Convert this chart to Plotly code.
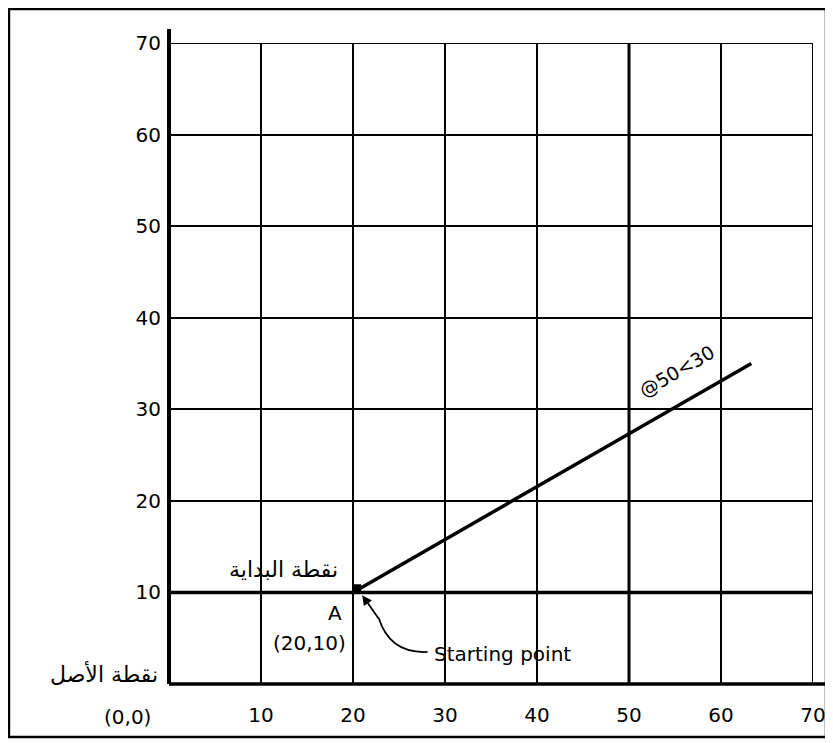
import plotly.graph_objects as go

# grid ticks
x_ticks = [10, 20, 30, 40, 50, 60, 70]
y_ticks = [10, 20, 30, 40, 50, 60, 70]

# relative polar line @50<30 starting from A(20,10)
line_x = [20, 63.3]
line_y = [10, 35]

thick_y = [10]   # heavier horizontal grid lines
thick_x = [50]   # heavier vertical grid lines
edge = 70        # outer grid line (plotly drops grid lines on the range edge)

FONT = "DejaVu Sans, sans-serif"
AR_FONT = "DejaVu Sans, sans-serif"

fig = go.Figure()

fig.add_trace(go.Scatter(
    x=line_x, y=line_y, mode="lines",
    line=dict(color="black", width=3.5),
    showlegend=False, hoverinfo="skip"
))
fig.add_trace(go.Scatter(
    x=[line_x[0] + 0.4], y=[line_y[0] + 0.4], mode="markers",
    marker=dict(symbol="square", size=9, color="black"),
    showlegend=False, hoverinfo="skip"
))

shapes = []
for v in thick_y:
    shapes.append(dict(type="line", xref="x", yref="y", x0=0, x1=70, y0=v, y1=v,
                       line=dict(color="black", width=3.5)))
for v in thick_x:
    shapes.append(dict(type="line", xref="x", yref="y", x0=v, x1=v, y0=0, y1=70,
                       line=dict(color="black", width=3)))
shapes.append(dict(type="line", xref="x", yref="y", x0=0, x1=edge, y0=edge, y1=edge,
                   line=dict(color="black", width=2)))
shapes.append(dict(type="line", xref="x", yref="y", x0=edge, x1=edge, y0=0, y1=edge,
                   line=dict(color="black", width=2)))
# axis spines, a little past the grid
shapes.append(dict(type="line", xref="paper", yref="paper", x0=0, x1=0, y0=0, y1=1.022,
                   line=dict(color="black", width=4)))
shapes.append(dict(type="line", xref="paper", yref="paper", x0=0, x1=1.02, y0=0, y1=0,
                   line=dict(color="black", width=3.5)))
# outer frame
shapes.append(dict(type="rect", xref="paper", yref="paper", x0=-0.2485, x1=1.0202,
                   y0=-0.0827, y1=1.053, line=dict(color="black", width=2.5)))
# curved leader for "Starting point"
shapes.append(dict(type="path", xref="x", yref="y",
                   path="M 28.1,3.5 Q 24.0,3.3 22.8,7.2",
                   line=dict(color="black", width=1.8)))

annotations = [
    dict(x=21.0, y=9.7, ax=22.9, ay=7.0, xref="x", yref="y", axref="x", ayref="y",
         text="", showarrow=True, arrowhead=2, arrowsize=1.1, arrowwidth=1.8,
         arrowcolor="black"),
    dict(x=28.6, y=3.3, xref="x", yref="y", text="Starting point", showarrow=False,
         xanchor="left", yanchor="middle", font=dict(family=FONT, size=20, color="black")),
    dict(x=18.0, y=7.75, xref="x", yref="y", text="A", showarrow=False,
         xanchor="center", yanchor="middle", font=dict(family=FONT, size=20, color="black")),
    dict(x=15.3, y=4.5, xref="x", yref="y", text="(20,10)", showarrow=False,
         xanchor="center", yanchor="middle", font=dict(family=FONT, size=20, color="black")),
    dict(x=18.6, y=12.45, xref="x", yref="y", text="نقطة البداية", showarrow=False,
         xanchor="right", yanchor="middle", font=dict(family=AR_FONT, size=22, color="black")),
    dict(x=-0.014, y=0.016, xref="paper", yref="paper", text="نقطة الأصل", showarrow=False,
         xanchor="right", yanchor="middle", font=dict(family=AR_FONT, size=22, color="black")),
    dict(x=-0.064, y=-0.0515, xref="paper", yref="paper", text="(0,0)", showarrow=False,
         xanchor="center", yanchor="middle", font=dict(family=FONT, size=20, color="black")),
    dict(x=55.2, y=34.2, xref="x", yref="y", text="@50<30", showarrow=False,
         textangle=-30, font=dict(family=FONT, size=19, color="black")),
]

# the page body adds an 8px offset, so the figure is 8px smaller on each side
fig.update_layout(
    width=825, height=735,
    margin=dict(l=161, r=20, t=35, b=59),
    paper_bgcolor="white", plot_bgcolor="white",
    shapes=shapes, annotations=annotations,
    showlegend=False,
    xaxis=dict(range=[0, 70], tickvals=x_ticks, showgrid=True, gridcolor="black",
               gridwidth=2, zeroline=False, showline=False, ticks="",
               ticklabelstandoff=17, automargin=False,
               tickfont=dict(family=FONT, size=20, color="black"), fixedrange=True),
    yaxis=dict(range=[0, 70], tickvals=y_ticks, showgrid=True, gridcolor="black",
               gridwidth=2, zeroline=False, showline=False, ticks="",
               ticklabelstandoff=7, automargin=False,
               tickfont=dict(family=FONT, size=20, color="black"), fixedrange=True),
)

fig.write_html("out.html")
